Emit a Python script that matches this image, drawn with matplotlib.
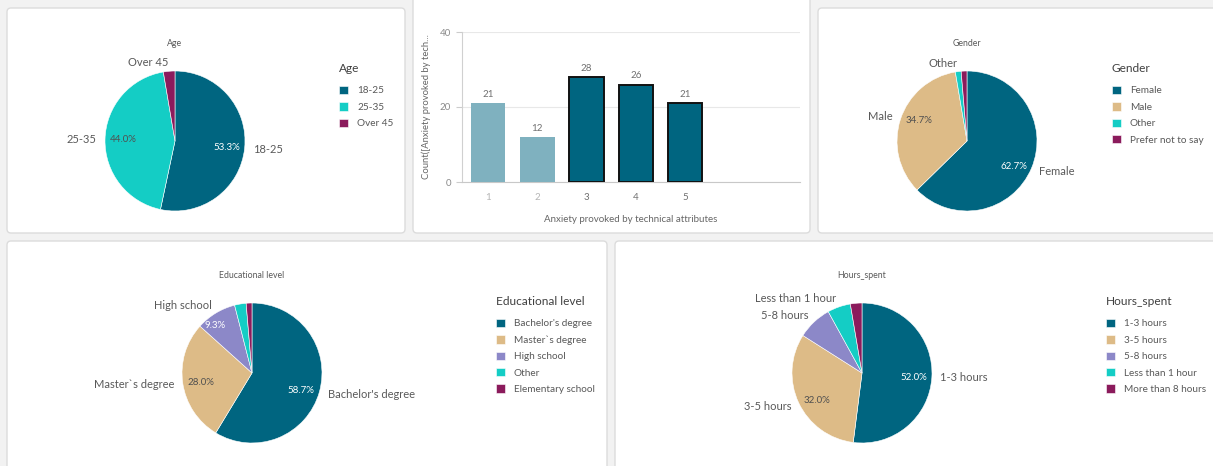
import math
import matplotlib
matplotlib.use("Agg")
import matplotlib.pyplot as plt
from matplotlib.patches import FancyBboxPatch

plt.rcParams['font.family'] = ['Lato', 'DejaVu Sans']

# ---------------- data ----------------
age_labels = ["18-25", "25-35", "Over 45"]
age_counts = [40, 33, 2]

gender_labels = ["Female", "Male", "Other", "Prefer not to say"]
gender_counts = [47, 26, 1, 1]

edu_labels = ["Bachelor's degree", "Master`s degree", "High school", "Other", "Elementary school"]
edu_counts = [44, 21, 7, 2, 1]

hours_labels = ["1-3 hours", "3-5 hours", "5-8 hours", "Less than 1 hour", "More than 8 hours"]
hours_counts = [39, 24, 6, 4, 2]

anx_levels = ["1", "2", "3", "4", "5"]
anx_counts = [21, 12, 28, 26, 21]
anx_selected = [False, False, True, True, True]

# ---------------- style ----------------
TEAL = "#006580"
CYAN = "#14cdc5"
MAROON = "#8b1b5c"
TAN = "#ddbb87"
PURPLE = "#8c88c8"
LIGHTBAR = "#7fb1bf"
TXT = "#595959"
PCT_TEXT = {TEAL: "white", PURPLE: "white", MAROON: "white", CYAN: "#505050", TAN: "#505050"}

W, H = 1213, 466
fig = plt.figure(figsize=(W / 100, H / 100), dpi=100, facecolor="#f2f2f2")


def panel(x0, y0, x1, y1):
    p = FancyBboxPatch((x0 / 100, (H - y1) / 100), (x1 - x0) / 100, (y1 - y0) / 100,
                       boxstyle="round,pad=0,rounding_size=0.04",
                       transform=fig.dpi_scale_trans, facecolor="white",
                       edgecolor="#dcdcdc", linewidth=1.0, zorder=-10)
    fig.patches.append(p)


def fax(x0, y0, x1, y1):
    return fig.add_axes([x0 / W, 1 - y1 / H, (x1 - x0) / W, (y1 - y0) / H])


panel(7, 8, 405, 233)
panel(413, -6, 810, 233)
panel(818, 8, 1220, 233)
panel(7, 241, 607, 472)
panel(615, 241, 1220, 472)


def pie_panel(cx, cy, R, counts, labels, colors, show_outer, show_pct,
              title, title_y, leg_x, leg_y):
    ax = fax(cx - R, cy - R, cx + R, cy + R)
    wedges, _ = ax.pie(counts, colors=colors, startangle=90, counterclock=False,
                       radius=1, wedgeprops=dict(edgecolor="white", linewidth=0.4))
    ax.set_xlim(-1, 1)
    ax.set_ylim(-1, 1)
    ax.axis("off")
    total = sum(counts)
    for w, v, lab, so, sp, col in zip(wedges, counts, labels, show_outer, show_pct, colors):
        mid = math.radians((w.theta1 + w.theta2) / 2)
        span = abs(w.theta2 - w.theta1)
        c, s = math.cos(mid), math.sin(mid)
        if so:
            ax.text(1.12 * c, 1.12 * s, lab, ha="left" if c > 0 else "right",
                    va="center", fontsize=8.0, color=TXT, clip_on=False)
        if sp:
            if span < 45:
                px, py, ha = 0.8 * c - 0.12, 0.8 * s, "center"
            else:
                px, py, ha = 0.93 * c, 0.93 * s, ("right" if c > 0 else "left")
            ax.text(px, py, f"{v / total * 100:.1f}%", ha=ha, va="center",
                    fontsize=7.0, color=PCT_TEXT.get(col, "#505050"), clip_on=False)
    fig.text(cx / W, 1 - title_y / H, title, ha="center", va="center",
             fontsize=6.3, color=TXT)
    leg = fig.legend(wedges, labels, loc="upper left",
                     bbox_to_anchor=(leg_x / W, 1 - leg_y / H),
                     frameon=False, title=title, alignment="left",
                     fontsize=7.2, title_fontsize=8.6,
                     handlelength=0.9, handleheight=0.9, handletextpad=0.9,
                     labelspacing=0.68, borderpad=0, borderaxespad=0)
    leg._legend_box.sep = 8.5
    for t in leg.get_texts():
        t.set_color(TXT)
    leg.get_title().set_color("#404040")
    return ax


pie_panel(175, 141, 70, age_counts, age_labels, [TEAL, CYAN, MAROON],
          [True, True, True], [True, True, False], "Age", 43, 339, 63)
pie_panel(967, 141, 70, gender_counts, gender_labels, [TEAL, TAN, CYAN, MAROON],
          [True, True, True, False], [True, True, False, False], "Gender", 43, 1112, 63)
pie_panel(252, 373, 70, edu_counts, edu_labels, [TEAL, TAN, PURPLE, CYAN, MAROON],
          [True, True, True, False, False], [True, True, True, False, False],
          "Educational level", 276, 496, 296)
pie_panel(862, 373, 70, hours_counts, hours_labels, [TEAL, TAN, PURPLE, CYAN, MAROON],
          [True, True, True, True, False], [True, True, False, False, False],
          "Hours_spent", 276, 1106, 296)

# ---------------- bar chart ----------------
bx = fax(462, 32, 800, 182)
xs = list(range(1, len(anx_counts) + 1))
for x, v, sel in zip(xs, anx_counts, anx_selected):
    bx.bar(x, v, width=0.7, color=TEAL if sel else LIGHTBAR,
           edgecolor="#111111" if sel else "none", linewidth=1.4 if sel else 0, zorder=3)
    bx.annotate(str(v), (x, v), xytext=(0, 3), textcoords="offset points",
                ha="center", va="bottom", fontsize=7, color="#707070")
bx.set_xlim(0.47, 7.33)
bx.set_ylim(0, 40)
bx.set_yticks([0, 20, 40])
bx.set_xticks(xs)
bx.set_xticklabels(anx_levels)
for lab, sel in zip(bx.get_xticklabels(), anx_selected):
    lab.set_color("#707070" if sel else "#b5b5b5")
bx.tick_params(axis="x", length=0, pad=8, labelsize=7)
bx.tick_params(axis="y", length=4, color="#cccccc", labelsize=7, labelcolor="#8a8a8a", pad=4)
bx.grid(axis="y", color="#e8e8e8", linewidth=0.8, zorder=0)
for sp in ["top", "right"]:
    bx.spines[sp].set_visible(False)
bx.spines["left"].set_color("#d0d0d0")
bx.spines["bottom"].set_color("#c8c8c8")
bx.set_facecolor("none")
bx.set_xlabel("Anxiety provoked by technical attributes", fontsize=7, color="#666666", labelpad=9)
bx.set_ylabel("Count([Anxiety provoked by tech...", fontsize=6.8, color="#666666", labelpad=6)

fig.savefig("out.png", dpi=100, facecolor=fig.get_facecolor())
